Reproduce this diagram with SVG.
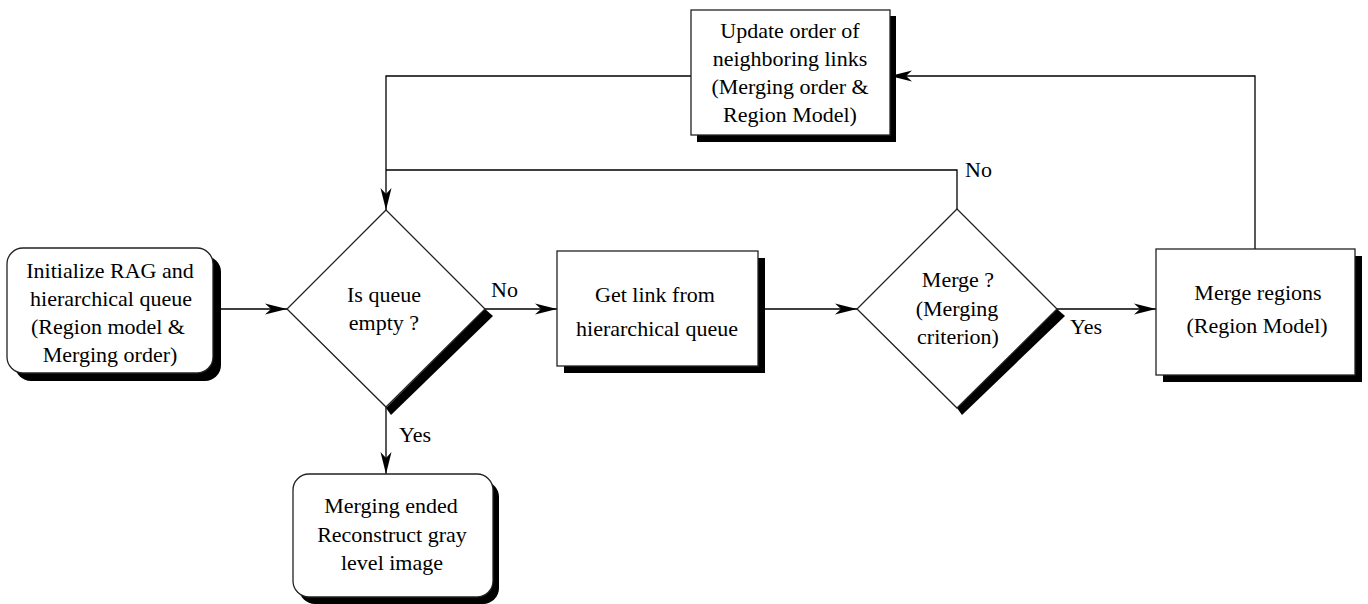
<svg xmlns="http://www.w3.org/2000/svg" width="1368" height="604" viewBox="0 0 1368 604">
<style>
.box{fill:#fff;stroke:#222;stroke-width:1.3}
.sh{fill:#000}
.ln{fill:none;stroke:#000;stroke-width:1.3}
text{font-family:"Liberation Serif","Times New Roman",serif;font-size:22px;fill:#000;text-anchor:middle}
.lbl{text-anchor:start}
</style>
<defs>
<marker id="arr" markerUnits="userSpaceOnUse" markerWidth="24" markerHeight="12" viewBox="-23 -6 24 12" refX="0" refY="0" orient="auto">
<path d="M0,0 L-22,-5.5 L-16,0 L-22,5.5 z" fill="#000"/>
</marker>
</defs>
<rect width="1368" height="604" fill="#fff"/>
<g id="connectors">
<line class="ln" x1="213" y1="309" x2="287" y2="309" marker-end="url(#arr)"/>
<line class="ln" x1="485" y1="309" x2="557" y2="309" marker-end="url(#arr)"/>
<line class="ln" x1="758" y1="309" x2="857" y2="309" marker-end="url(#arr)"/>
<line class="ln" x1="1057" y1="309" x2="1156" y2="309" marker-end="url(#arr)"/>
<polyline class="ln" points="1255,249 1255,76 890,76" marker-end="url(#arr)"/>
<polyline class="ln" points="691,76 386,76 386,210" marker-end="url(#arr)"/>
<polyline class="ln" points="957,209 957,170 386,170"/>
<line class="ln" x1="386" y1="407" x2="386" y2="474" marker-end="url(#arr)"/>
<text class="lbl" x="491" y="297">No</text>
<text class="lbl" x="1070" y="334">Yes</text>
<text class="lbl" x="399" y="442">Yes</text>
<text class="lbl" x="965" y="177">No</text>
</g>
<g id="init">
<rect class="sh" x="15" y="256" width="206" height="125" rx="16"/>
<rect class="box" x="7" y="248" width="206" height="125" rx="16"/>
<text x="110" y="278">Initialize RAG and</text>
<text x="111" y="306">hierarchical queue</text>
<text x="108" y="334">(Region model &amp;</text>
<text x="110" y="362">Merging order)</text>
</g>
<g id="queue-empty">
<polygon class="sh" points="485,309 493,316 391,415 386,408"/>
<polygon class="box" points="386,210 485,309 386,407 287,309"/>
<text x="384" y="302">Is queue</text>
<text x="384" y="330">empty ?</text>
</g>
<g id="get-link">
<rect class="sh" x="564" y="258" width="201" height="115"/>
<rect class="box" x="557" y="251" width="201" height="115"/>
<text x="655" y="302">Get link from</text>
<text x="657" y="336">hierarchical queue</text>
</g>
<g id="merge-q">
<polygon class="sh" points="1057,309 1065,316 962,415 957,408"/>
<polygon class="box" points="957,209 1057,309 957,408 857,309"/>
<text x="958" y="287">Merge ?</text>
<text x="957" y="316">(Merging</text>
<text x="958" y="344">criterion)</text>
</g>
<g id="merge-regions">
<rect class="sh" x="1163" y="256" width="199" height="126"/>
<rect class="box" x="1156" y="249" width="199" height="126"/>
<text x="1258" y="300">Merge regions</text>
<text x="1257" y="333">(Region Model)</text>
</g>
<g id="update">
<rect class="sh" x="697" y="16" width="199" height="126"/>
<rect class="box" x="691" y="10" width="199" height="125"/>
<text x="790" y="38">Update order of</text>
<text x="790" y="66">neighboring links</text>
<text x="790" y="94">(Merging order &amp;</text>
<text x="790" y="122">Region Model)</text>
</g>
<g id="end">
<rect class="sh" x="299" y="481" width="200" height="123" rx="16"/>
<rect class="box" x="293" y="474" width="200" height="123" rx="16"/>
<text x="391" y="513">Merging ended</text>
<text x="392" y="542">Reconstruct gray</text>
<text x="392" y="570">level image</text>
</g>
</svg>
